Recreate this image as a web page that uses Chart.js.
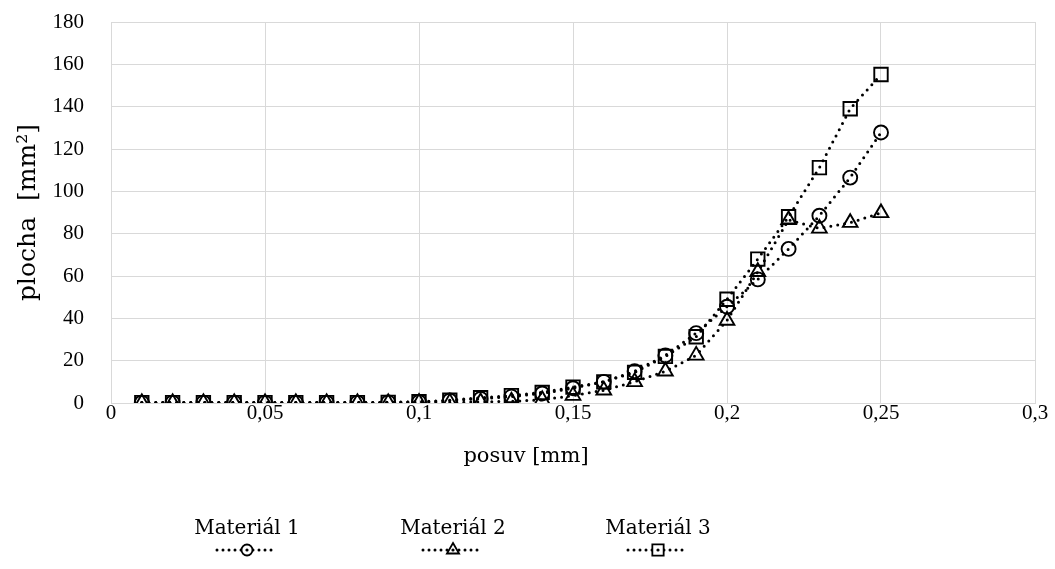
<!DOCTYPE html>
<html>
<head>
<meta charset="utf-8">
<script src="https://cdn.jsdelivr.net/npm/chart.js@4/dist/chart.umd.min.js"></script>
<style>
  html, body { margin: 0; padding: 0; background: #fff; }
  #wrap { width: 1055px; height: 569px; }
</style>
</head>
<body>
<div id="wrap"><canvas id="c" width="1055" height="569"></canvas></div>
<script>
// posuv [mm]
const posuv = [0.01, 0.02, 0.03, 0.04, 0.05, 0.06, 0.07, 0.08, 0.09, 0.10,
               0.11, 0.12, 0.13, 0.14, 0.15, 0.16, 0.17, 0.18, 0.19, 0.20,
               0.21, 0.22, 0.23, 0.24, 0.25];
// plocha [mm²]
const material1 = [0.2, 0.2, 0.2, 0.2, 0.2, 0.2, 0.2, 0.2, 0.3, 0.5,
                   1.2, 2.0, 3.0, 4.5, 7.0, 10.0, 15.0, 22.5, 33.0, 45.5,
                   58.4, 72.8, 88.5, 106.5, 127.8];
const material2 = [0.1, 0.1, 0.1, 0.1, 0.1, 0.1, 0.1, 0.1, 0.1, 0.2,
                   0.3, 0.5, 0.8, 1.5, 3.5, 6.0, 10.0, 15.0, 22.5, 39.0,
                   62.0, 86.5, 82.5, 85.2, 89.8];
const material3 = [0.2, 0.2, 0.2, 0.2, 0.2, 0.2, 0.2, 0.2, 0.3, 0.6,
                   1.3, 2.5, 3.5, 5.0, 7.5, 10.0, 14.5, 22.0, 31.3, 49.0,
                   68.0, 88.0, 111.2, 139.0, 155.2];
const seriesNames = ['Materiál 1', 'Materiál 2', 'Materiál 3'];
const seriesShapes = ['circle', 'triangle', 'rect'];
const seriesValues = [material1, material2, material3];
const xTitle = 'posuv [mm]';
const yTitle = 'plocha  [mm²]';

const TICK_FONT = '"Liberation Serif", serif';
const TEXT_FONT = '"DejaVu Serif", "Liberation Serif", serif';
const fmt = v => String(+Number(v).toFixed(2)).replace('.', ',');

const radii = { circle: 7, triangle: 8.5, rect: 9.5 };

const datasets = seriesNames.map((name, i) => ({
  label: name,
  data: posuv.map((x, j) => ({ x, y: seriesValues[i][j] })),
  borderColor: '#000',
  borderWidth: 3,
  borderDash: [0, 7],
  borderCapStyle: 'round',
  pointStyle: seriesShapes[i],
  pointRadius: radii[seriesShapes[i]],
  pointBorderWidth: 1.9,
  pointBorderColor: '#000',
  pointBackgroundColor: 'rgba(255,255,255,0)',
  tension: 0,
  fill: false
}));

// x-axis title and the legend (label above a short dotted sample with the marker)
const bottomTexts = {
  id: 'bottomTexts',
  afterDraw(chart) {
    const ctx = chart.ctx;
    ctx.save();
    ctx.fillStyle = '#000';
    ctx.textAlign = 'center';
    ctx.textBaseline = 'middle';
    ctx.font = '21px ' + TEXT_FONT;
    ctx.fillText(xTitle, 526, 457);

    const centers = [247, 453, 658];
    chart.data.datasets.forEach((ds, i) => {
      const cx = centers[i];
      ctx.fillStyle = '#000';
      ctx.font = '20px ' + TEXT_FONT;
      ctx.textBaseline = 'alphabetic';
      ctx.fillText(ds.label, cx, 534);
      const y = 550;
      ctx.strokeStyle = '#000';
      ctx.lineWidth = 3;
      ctx.lineCap = 'round';
      ctx.setLineDash([0, 6]);
      ctx.beginPath();
      ctx.moveTo(cx - 30, y);
      ctx.lineTo(cx + 30, y);
      ctx.stroke();
      ctx.setLineDash([]);
      ctx.fillStyle = '#fff';
      ctx.lineWidth = 1.8;
      Chart.helpers.drawPoint(ctx, {
        pointStyle: ds.pointStyle,
        radius: ds.pointRadius - 1.5,
        borderWidth: 1.8
      }, cx, y);
      ctx.fillStyle = '#000';
      ctx.beginPath();
      ctx.arc(cx, y, 1.6, 0, Math.PI * 2);
      ctx.fill();
    });
    ctx.restore();
  }
};

new Chart(document.getElementById('c'), {
  type: 'line',
  data: { datasets },
  plugins: [bottomTexts],
  options: {
    responsive: false,
    animation: false,
    layout: { padding: { left: 13, right: 20, top: 22, bottom: 99 } },
    plugins: { legend: { display: false }, tooltip: { enabled: false } },
    scales: {
      x: {
        type: 'linear',
        min: 0, max: 0.3,
        ticks: {
          stepSize: 0.05,
          color: '#000',
          font: { family: TICK_FONT, size: 21 },
          padding: -2,
          maxRotation: 0,
          callback: v => fmt(v)
        },
        grid: { color: '#d9d9d9', lineWidth: 1, drawTicks: false },
        border: { color: '#d9d9d9', width: 1 },
        afterFit(scale) { scale.height = 67; }
      },
      y: {
        min: 0, max: 180,
        ticks: {
          stepSize: 20,
          color: '#000',
          font: { family: TICK_FONT, size: 21 },
          padding: 27
        },
        grid: { color: '#d9d9d9', lineWidth: 1, drawTicks: false },
        border: { color: '#d9d9d9', width: 1 },
        title: {
          display: true,
          text: yTitle,
          color: '#000',
          font: { family: TEXT_FONT, size: 25 },
          padding: { top: 0, bottom: 0 }
        },
        afterFit(scale) {
          scale.width = 98;
          scale.paddingTop = 0;
          scale.paddingBottom = 0;
        }
      }
    }
  }
});
</script>
</body>
</html>
